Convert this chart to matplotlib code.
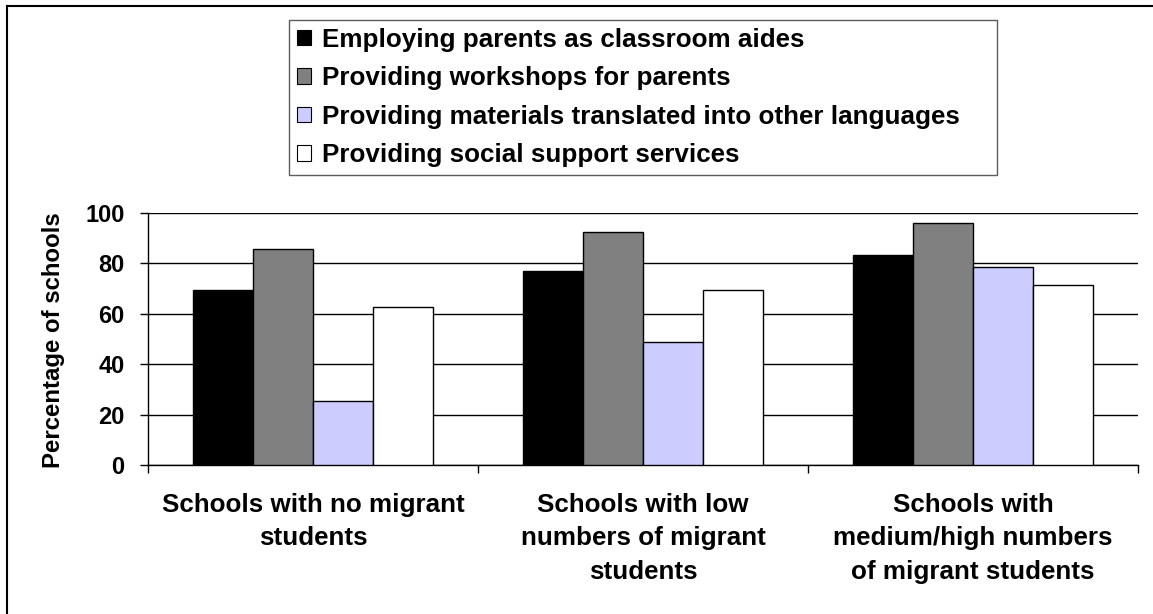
import numpy as np
import matplotlib
matplotlib.use('Agg')
import matplotlib.pyplot as plt
from matplotlib.patches import Patch
from matplotlib.lines import Line2D

# data
categories = ['Schools with no migrant\nstudents',
              'Schools with low\nnumbers of migrant\nstudents',
              'Schools with\nmedium/high numbers\nof migrant students']
series_names = ['Employing parents as classroom aides',
                'Providing workshops for parents',
                'Providing materials translated into other languages',
                'Providing social support services']
aides = [69.4, 77.1, 83.3]
workshops = [85.6, 92.6, 96.2]
translated = [25.5, 48.7, 78.6]
social = [62.6, 69.3, 71.4]
colors = ['#000000', '#808080', '#CCCCFF', '#FFFFFF']
y_ticks = [0, 20, 40, 60, 80, 100]

plt.rcParams['font.family'] = ['Liberation Sans', 'DejaVu Sans']
plt.rcParams['font.weight'] = 'bold'

W, H = 1153, 614
fig = plt.figure(figsize=(W / 100, H / 100), dpi=100)
ax = fig.add_axes([148 / W, (H - 465) / H, 990 / W, 252 / H])

values = [aides, workshops, translated, social]
x = np.arange(len(categories))
width = 0.182
offsets = (np.arange(4) - 1.5) * width
for i, vals in enumerate(values):
    ax.bar(x + offsets[i], vals, width, color=colors[i], edgecolor='black',
           linewidth=1.0, zorder=3, label=series_names[i])

ax.set_xlim(-0.5, 2.5)
ax.set_ylim(0, 100)
ax.set_yticks(y_ticks)
ax.set_yticklabels([str(v) for v in y_ticks], fontsize=17, fontweight='bold')
ax.yaxis.grid(True, color='black', linewidth=1.0, zorder=0)
ax.tick_params(axis='y', direction='out', length=6, width=1, pad=11)

ax.set_xticks(x)
ax.set_xticklabels(categories, fontsize=18.7, fontweight='bold', linespacing=1.5)
ax.tick_params(axis='x', which='major', length=0, pad=20)
ax.set_xticks([-0.5, 0.5, 1.5, 2.5], minor=True)
ax.tick_params(axis='x', which='minor', direction='out', length=6, width=1)

for s in ['top', 'right']:
    ax.spines[s].set_visible(False)
for s in ['left', 'bottom']:
    ax.spines[s].set_linewidth(1.0)

fig.text(54 / W, 1 - 340 / H, 'Percentage of schools', rotation=90,
         ha='center', va='center', fontsize=17.3, fontweight='bold')

handles = [Patch(facecolor=c, edgecolor='black', linewidth=0.8) for c in colors]
leg = fig.legend(handles, series_names, loc='lower left',
                 bbox_to_anchor=(289 / W, 1 - 175 / H, 708 / W, 156 / H),
                 mode='expand', fontsize=18.7, frameon=True, fancybox=False,
                 edgecolor='#333333', handlelength=0.55, handleheight=0.55,
                 handletextpad=0.42, labelspacing=0.56, borderpad=0.3,
                 borderaxespad=0)
leg.get_frame().set_linewidth(1.0)
for t in leg.get_texts():
    t.set_fontweight('bold')

# outer chart border (left and top only visible)
fig.add_artist(Line2D([7 / W, 7 / W], [0, 1 - 6 / H], transform=fig.transFigure,
                      color='black', linewidth=1.5))
fig.add_artist(Line2D([7 / W, 1], [1 - 6 / H, 1 - 6 / H], transform=fig.transFigure,
                      color='black', linewidth=1.5))

fig.savefig('out.png', dpi=100, facecolor='white')
